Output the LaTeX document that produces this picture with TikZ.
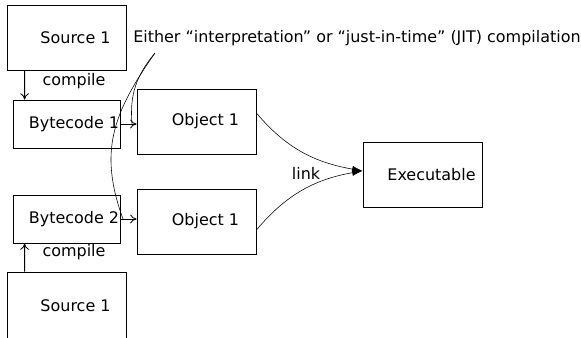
\documentclass[tikz,border=0pt]{standalone}
\usepackage{fontspec}
\setmainfont{DejaVu Sans}
\usetikzlibrary{arrows.meta}
\begin{document}
\begin{tikzpicture}[font=\fontsize{11.35}{13}\selectfont,
  bloc/.style={draw, line width=0.6pt, minimum width=2.975cm, minimum height=1.625cm, inner sep=0pt, execute at begin node={\hspace*{0.45cm}}},
  petit/.style={draw, line width=0.6pt, minimum width=2.675cm, minimum height=1.2cm, inner sep=0pt, execute at begin node={\hspace*{0.375cm}}},
  fleche/.style={line width=0.6pt, -{To[length=1.6mm,width=2.2mm]}},
  lien/.style={-{Latex[length=2.6mm,width=1.6mm]}}]
  \useasboundingbox (0,0) rectangle (14.525,8.425);
  \node[bloc] (src1) at (1.6625,7.4875) {Source 1};
  \node[petit] (byte1) at (1.6625,5.325) {Bytecode 1};
  \node[bloc] (obj1) at (4.9125,5.3875) {Object 1};
  \node[petit] (byte2) at (1.6625,2.95) {Bytecode 2};
  \node[bloc] (obj2) at (4.9125,2.8875) {Object 1};
  \node[bloc, minimum height=1.7cm] (src2) at (1.6625,0.775) {Source 1};
  \node[bloc] (exe) at (10.5625,4.0625) {Executable};
  \node (comp1) at (1.85,6.4) {compile};
  \node (comp2) at (1.85,2.125) {compile};
  \node[anchor=west, inner sep=0pt] (jit) at (3.325,7.475) {Either “interpretation” or “just-in-time” (JIT) compilation};
  \node (link) at (7.65,4.1) {link};
  \draw[fleche] ([xshift=0.45cm]src1.south west) -- ([xshift=0.3cm]byte1.north west);
  \draw[fleche] ([xshift=0.45cm]src2.north west) -- ([xshift=0.3cm]byte2.south west);
  \draw[fleche] (byte1.east) -- (byte1.east -| obj1.west);
  \draw[fleche] (byte2.east) -- (byte2.east -| obj2.west);
  \draw[lien] ([yshift=0.2125cm]obj1.east) to[out=-50,in=170] ([yshift=0.09cm]exe.west);
  \draw[lien] ([yshift=-0.2125cm]obj2.east) to[out=50,in=190] ([yshift=0.09cm]exe.west);
  \coordinate (pied) at (3.875,7.1);
  \coordinate (fin1) at (3.3,5.325);
  \coordinate (fin2) at (3.075,2.95);
  \draw (pied) to[out=230,in=95] (fin1);
  \draw (pied) to[out=235,in=110,looseness=1.1] (fin2);
\end{tikzpicture}
\end{document}
